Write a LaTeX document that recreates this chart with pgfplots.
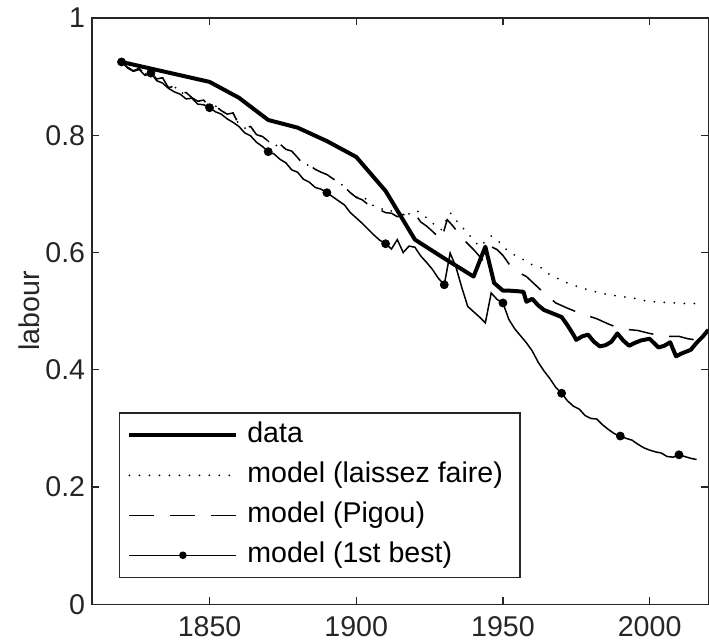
\documentclass[border=0pt]{standalone}
\usepackage{pgfplots}
\pgfplotsset{compat=1.18}
\usepackage{pgfplotstable}
\usepackage{fontspec}
\setmainfont{Liberation Sans}

\pgfplotsset{
  longlegend/.style={legend image code/.code={\draw[##1] (0pt,0pt) -- (53.5pt,0pt);}},
  fblegend/.style={legend image code/.code={\draw[##1] (0pt,0pt) -- (53.5pt,0pt); \fill[black] (26.75pt,0pt) circle (1.5pt);}},
}

\pgfplotstableread{
year y
1820 0.925
1850 0.891
1860 0.864
1870 0.826
1880 0.813
1890 0.790
1900 0.763
1910 0.705
1920 0.622
1930 0.590
1940 0.559
1944 0.610
1947 0.548
1950 0.535
1952 0.535
1955 0.534
1957 0.533
1958 0.516
1960 0.521
1962 0.510
1964 0.502
1966 0.498
1968 0.494
1970 0.490
1972 0.476
1974 0.460
1975 0.451
1977 0.457
1979 0.460
1981 0.448
1983 0.440
1985 0.442
1987 0.448
1989 0.462
1991 0.450
1993 0.441
1995 0.446
1997 0.450
2000 0.453
2003 0.438
2005 0.441
2007 0.447
2009 0.423
2011 0.428
2014 0.434
2016 0.446
2018 0.456
2020 0.468
}\datatab

\pgfplotstableread{
year y
1820 0.925
1822 0.916
1824 0.910
1826 0.914
1828 0.904
1830 0.907
1832 0.896
1834 0.898
1836 0.881
1838 0.884
1840 0.871
1842 0.873
1844 0.864
1846 0.858
1848 0.860
1850 0.848
1852 0.850
1854 0.842
1856 0.836
1858 0.838
1860 0.818
1862 0.812
1864 0.815
1866 0.801
1868 0.798
1870 0.790
1872 0.781
1874 0.785
1876 0.776
1878 0.773
1880 0.762
1882 0.750
1884 0.749
1886 0.742
1888 0.737
1890 0.733
1892 0.726
1894 0.720
1896 0.712
1898 0.702
1900 0.694
1902 0.697
1904 0.688
1906 0.679
1908 0.677
1910 0.670
1912 0.671
1914 0.664
1916 0.669
1918 0.666
1920 0.672
1922 0.668
1924 0.659
1926 0.650
1929 0.639
1932 0.668
1934 0.655
1936 0.644
1939 0.627
1942 0.610
1946 0.628
1948 0.622
1950 0.610
1953 0.598
1956 0.591
1959 0.581
1963 0.574
1966 0.562
1969 0.555
1972 0.548
1976 0.541
1980 0.535
1983 0.531
1986 0.528
1990 0.525
1994 0.523
1997 0.519
2001 0.516
2005 0.515
2009 0.514
2012 0.513
2016 0.513
}\laissez

\pgfplotstableread{
year y
1820 0.925
1822 0.916
1824 0.910
1826 0.914
1828 0.904
1830 0.907
1832 0.896
1834 0.898
1836 0.881
1838 0.884
1840 0.871
1842 0.873
1844 0.864
1846 0.858
1848 0.860
1850 0.848
1852 0.850
1854 0.842
1856 0.836
1858 0.838
1860 0.818
1862 0.812
1864 0.815
1866 0.801
1868 0.798
1870 0.790
1872 0.781
1874 0.785
1876 0.776
1878 0.773
1880 0.762
1882 0.750
1884 0.749
1886 0.742
1888 0.737
1890 0.733
1892 0.726
1894 0.720
1896 0.712
1898 0.702
1900 0.694
1902 0.690
1904 0.682
1906 0.676
1908 0.673
1910 0.668
1912 0.667
1914 0.661
1916 0.665
1918 0.662
1920 0.666
1922 0.652
1924 0.645
1926 0.636
1929 0.622
1931 0.656
1933 0.645
1936 0.625
1940 0.605
1943 0.588
1946 0.610
1948 0.605
1950 0.595
1953 0.574
1955 0.567
1958 0.559
1961 0.545
1964 0.531
1968 0.514
1972 0.505
1976 0.497
1982 0.487
1986 0.478
1990 0.470
1996 0.467
2000 0.462
2005 0.457
2010 0.457
2013 0.453
2017 0.450
}\pigou

\pgfplotstableread{
year y
1820 0.925
1822 0.915
1824 0.909
1826 0.912
1828 0.902
1830 0.906
1832 0.893
1834 0.889
1836 0.880
1838 0.874
1840 0.870
1842 0.862
1844 0.863
1846 0.853
1848 0.852
1850 0.847
1852 0.840
1854 0.836
1856 0.828
1858 0.822
1860 0.815
1862 0.804
1864 0.799
1866 0.788
1868 0.781
1870 0.772
1872 0.768
1874 0.759
1876 0.753
1878 0.741
1880 0.737
1882 0.725
1884 0.720
1886 0.711
1888 0.708
1890 0.702
1892 0.695
1894 0.688
1896 0.681
1898 0.668
1900 0.659
1902 0.650
1904 0.640
1906 0.630
1908 0.621
1910 0.615
1912 0.606
1914 0.622
1916 0.600
1918 0.611
1920 0.609
1922 0.594
1924 0.583
1926 0.571
1928 0.556
1930 0.545
1932 0.599
1934 0.575
1936 0.540
1938 0.508
1940 0.499
1942 0.490
1944 0.480
1946 0.531
1948 0.520
1950 0.514
1952 0.486
1954 0.470
1956 0.458
1958 0.446
1960 0.432
1962 0.413
1964 0.398
1966 0.385
1968 0.370
1970 0.360
1972 0.347
1974 0.338
1976 0.333
1978 0.322
1980 0.317
1982 0.316
1984 0.306
1986 0.298
1988 0.291
1990 0.287
1992 0.283
1994 0.280
1996 0.273
1998 0.267
2000 0.263
2002 0.260
2004 0.258
2006 0.252
2008 0.251
2010 0.255
2012 0.252
2014 0.249
2016 0.247
}\firstbest

\pgfplotstableread{
year y
1820 0.925
1830 0.906
1850 0.847
1870 0.772
1890 0.702
1910 0.615
1930 0.545
1950 0.514
1970 0.360
1990 0.287
2010 0.255
}\firstbestmarks

\begin{document}
\begin{tikzpicture}
\begin{axis}[
  width=308.4pt, height=293.5pt, scale only axis,
  xmin=1810, xmax=2020, ymin=0, ymax=1,
  xtick={1850,1900,1950,2000},
  ytick={0,0.2,0.4,0.6,0.8,1},
  font=\fontsize{14.3}{17.2}\selectfont,
  /pgf/number format/assume math mode=true,
  xticklabel style={/pgf/number format/1000 sep={}, yshift=-2.4pt},
  ticklabel style={text=black!85},
  tick align=inside, major tick length=3.5pt,
  tick style={black!85, line width=0.6pt},
  axis line style={black!85, line width=0.7pt},
  ylabel={labour},
  ylabel style={at={(axis description cs:-0.1025,0.5)}, anchor=center, text=black!85},
  longlegend,
  legend cell align=left,
  legend style={at={(0.0433,0.0443)}, anchor=south west,
    draw=black!85, line width=0.6pt, fill=white,
    inner xsep=4pt, inner ysep=1.25pt, row sep=0pt,
    nodes={inner ysep=3pt, inner xsep=4.5pt, text height=10.5pt, text depth=3.5pt},
    font=\fontsize{14.3}{17.2}\selectfont},
]
\addplot[black, line width=2pt, line join=round] table[x=year,y=y] {\datatab};
\addlegendentry{data}
\addplot[black, line width=1pt, line cap=round, dash pattern=on 0pt off 5pt] table[x=year,y=y] {\laissez};
\addlegendentry{model (laissez faire)}
\addplot[black, line width=0.75pt, dash pattern=on 12.5pt off 8pt] table[x=year,y=y] {\pigou};
\addlegendentry{model (Pigou)}
\addplot[black, line width=0.75pt, fblegend] table[x=year,y=y] {\firstbest};
\addlegendentry{model (1st best)}
\addplot[only marks, mark=*, mark size=2pt, black, forget plot] table[x=year,y=y] {\firstbestmarks};
\end{axis}
\path ([xshift=-46.15pt,yshift=-19.5pt]current axis.south west) ([yshift=9pt]current axis.north east);
\end{tikzpicture}
\end{document}
